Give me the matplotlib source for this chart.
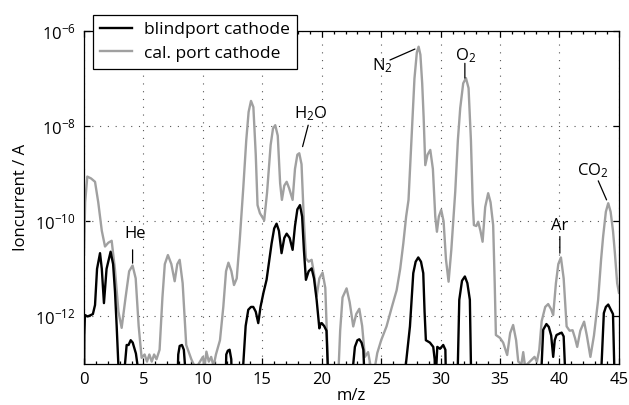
import numpy as np
import matplotlib
matplotlib.use("Agg")
import matplotlib.pyplot as plt
from matplotlib.ticker import FixedLocator, MultipleLocator, NullLocator

plt.rcParams['font.family'] = ['Open Sans', 'DejaVu Sans']
plt.rcParams['mathtext.fontset'] = 'custom'
plt.rcParams['mathtext.rm'] = 'Open Sans'
plt.rcParams['mathtext.it'] = 'Open Sans:italic'
plt.rcParams['mathtext.bf'] = 'Open Sans:bold'

# ---- data: m/z and log10(ion current / A) ----
cal_mz = [0.0, 0.1, 0.28, 0.6, 0.93, 1.2, 1.5, 1.77, 2.05, 2.33, 2.6, 2.9, 3.17, 3.5, 3.8, 4.09, 4.35, 4.6,
          4.85, 5.1, 5.3, 5.5, 5.7, 5.9, 6.1, 6.36, 6.6, 6.8, 7.06, 7.35, 7.63, 7.85, 8.05, 8.3, 8.6,
          9.03, 9.4, 9.76, 10.0, 10.15, 10.3, 10.5, 10.7, 10.9, 11.1, 11.44, 11.72, 11.95, 12.15, 12.4,
          12.62, 12.85, 13.1, 13.4, 13.65, 13.85, 14.05, 14.25, 14.45, 14.6, 14.8, 15.16, 15.4, 15.7,
          15.9, 16.09, 16.3, 16.5, 16.65, 16.85, 17.05, 17.25, 17.55, 17.75, 17.95, 18.11, 18.3, 18.5,
          18.67, 18.9, 19.15, 19.35, 19.57, 19.8, 20.07, 20.3, 20.45, 20.55, 21.4, 21.55, 21.75, 22.09,
          22.35, 22.65, 22.9, 23.16, 23.4, 23.63, 23.9, 24.15, 24.45, 24.67, 25.0, 25.45, 25.9, 26.3,
          26.6, 26.86, 27.1, 27.3, 27.6, 27.8, 28.0, 28.15, 28.3, 28.45, 28.57, 28.71, 28.9, 29.13,
          29.35, 29.55, 29.69, 29.85, 30.05, 30.25, 30.45, 30.67, 30.9, 31.23, 31.45, 31.65, 31.9, 32.13,
          32.35, 32.55, 32.7, 32.8, 33.0, 33.16, 33.35, 33.53, 33.75, 34.0, 34.2, 34.42, 34.55, 34.65,
          34.99, 35.26, 35.6, 35.85, 36.1, 36.35, 36.53, 36.8, 36.95, 37.1, 37.5, 37.9, 38.1, 38.3,
          38.5, 38.8, 39.05, 39.3, 39.47, 39.7, 39.9, 40.12, 40.35, 40.6, 40.85, 41.1, 41.3, 41.49,
          41.75, 42.07, 42.3, 42.6, 42.9, 43.25, 43.5, 43.67, 43.9, 44.1, 44.3, 44.5, 44.66, 44.85, 45.0]
cal_log = [-10.7, -9.6, -9.06, -9.1, -9.17, -9.6, -10.2, -10.53, -10.45, -10.41, -11.0, -11.9, -12.24, -11.6,
           -11.05, -10.93, -11.2, -12.2, -12.87, -12.8, -12.95, -12.8, -12.95, -12.8, -12.9, -12.7, -11.6,
           -10.9, -10.71, -10.9, -11.26, -10.9, -10.81, -11.3, -12.6, -12.9, -13.1, -12.95, -12.85, -13.05,
           -12.74, -12.95, -12.85, -13.05, -12.8, -12.5, -11.8, -11.05, -10.87, -11.05, -11.34, -11.2,
           -10.4, -9.3, -8.3, -7.7, -7.47, -7.6, -8.6, -9.66, -9.83, -9.98, -9.4, -8.4, -8.05, -7.98, -8.2,
           -9.2, -9.55, -9.25, -9.17, -9.3, -9.55, -8.9, -8.6, -8.57, -8.8, -10.0, -10.78, -10.85, -10.81,
           -11.1, -11.58, -11.2, -11.08, -11.4, -12.5, -13.2, -13.2, -12.3, -11.6, -11.41, -11.7, -12.21,
           -11.95, -11.84, -12.2, -12.85, -12.75, -13.1, -13.1, -12.77, -12.5, -12.21, -11.8, -11.45,
           -11.0, -10.47, -9.9, -9.55, -8.0, -7.0, -6.45, -6.33, -6.5, -7.1, -7.8, -8.82, -8.6, -8.5,
           -8.9, -9.9, -10.22, -9.9, -9.76, -10.0, -10.8, -11.27, -10.6, -9.38, -8.3, -7.62, -7.1, -6.99,
           -7.2, -8.3, -9.6, -10.08, -10.1, -10.01, -10.2, -10.43, -9.7, -9.41, -9.6, -10.08, -11.3, -12.39,
           -12.45, -12.55, -12.81, -12.35, -12.18, -12.5, -12.95, -13.0, -12.75, -13.05, -12.95, -12.85,
           -12.95, -12.7, -12.1, -11.8, -11.74, -11.85, -11.97, -11.3, -10.9, -10.76, -11.2, -12.21, -12.3,
           -12.29, -12.45, -12.64, -12.3, -12.11, -12.4, -12.85, -12.4, -11.65, -10.8, -10.32, -9.8, -9.62,
           -9.8, -10.2, -10.67, -11.3, -11.5]

blind_mz = [0.0, 0.03, 0.08, 0.3, 0.5, 0.75, 0.93, 1.1, 1.35, 1.5, 1.68, 1.9, 2.24, 2.45, 2.61, 2.75, 2.89,
            3.0, 3.35, 3.45, 3.59, 3.75, 3.93, 4.1, 4.37, 4.49, 4.6,
            7.8, 7.93, 8.05, 8.24, 8.4, 8.49, 8.6,
            11.85, 11.97, 12.1, 12.25, 12.39, 12.5,
            13.3, 13.4, 13.6, 13.82, 14.05, 14.24, 14.45, 14.66, 14.85, 15.1, 15.36, 15.6, 15.78, 16.0,
            16.2, 16.4, 16.62, 16.85, 17.05, 17.3, 17.55, 17.75, 17.95, 18.17, 18.35, 18.5, 18.67, 18.9,
            19.15, 19.35, 19.57, 19.8, 19.9, 20.0, 20.2, 20.4, 20.5, 20.6,
            22.55, 22.65, 22.79, 23.0, 23.16, 23.35, 23.5, 23.55, 23.65,
            26.95, 27.08, 27.42, 27.7, 27.9, 28.12, 28.35, 28.54, 28.65, 28.76, 29.1, 29.38, 29.5, 29.6,
            29.65, 29.72, 29.95, 30.22, 30.4, 30.5,
            31.35, 31.45, 31.57, 31.8, 32.04, 32.25, 32.46, 32.55, 32.65,
            38.4, 38.5, 38.63, 38.9, 39.1, 39.3, 39.47, 39.6, 39.75, 40.18, 40.35, 40.45, 40.55,
            43.45, 43.54, 43.73, 43.9, 44.1, 44.3, 44.5, 44.6, 44.7, 45.0]
blind_log = [-14, -12.4, -11.97, -12.0, -11.98, -11.95, -11.76, -11.0, -10.67, -11.0, -11.72, -11.0, -10.64,
             -10.9, -11.48, -12.2, -13.0, -14, -14, -13.0, -12.6, -12.6, -12.5, -12.55, -12.78, -13.0, -14,
             -14, -12.8, -12.62, -12.6, -12.7, -13.0, -14,
             -14, -12.8, -12.72, -12.7, -12.9, -14,
             -14, -13.0, -12.2, -11.86, -11.8, -11.8, -11.9, -12.14, -11.8, -11.5, -11.23, -10.8, -10.47,
             -10.15, -10.05, -10.2, -10.67, -10.35, -10.26, -10.35, -10.6, -10.1, -9.75, -9.66, -9.9,
             -10.6, -11.23, -11.05, -10.99, -11.2, -11.65, -12.25, -12.15, -12.14, -12.2, -12.3, -13, -14,
             -14, -13.0, -12.64, -12.5, -12.48, -12.55, -12.7, -13, -14,
             -14, -13.0, -12.21, -11.09, -10.85, -10.76, -10.85, -11.09, -11.9, -12.5, -12.55, -12.64,
             -12.9, -14,
             -13.0, -12.64, -12.68, -12.6, -12.7, -14,
             -14, -13, -11.65, -11.25, -11.16, -11.3, -11.65, -13, -14,
             -14, -13, -12.28, -12.16, -12.22, -12.4, -12.85, -12.5, -12.39, -12.34, -12.42, -13, -14,
             -14, -13, -11.93, -11.8, -11.75, -11.85, -11.95, -13, -14, -14]

series_labels = ['blindport cathode', 'cal. port cathode']
xticks = [0, 5, 10, 15, 20, 25, 30, 35, 40, 45]
yticks = [1e-12, 1e-10, 1e-8, 1e-6]

# annotations: label, text position (mz, log10), leader start, leader end
ann_labels = ['He', 'H$_2$O', 'N$_2$', 'O$_2$', 'Ar', 'CO$_2$']
ann_text = [(4.32, -10.36), (19.1, -7.83), (25.06, -6.82), (32.09, -6.61), (40.03, -10.18), (42.84, -9.03)]
ann_start = [(4.09, -10.60), (18.86, -7.98), (25.74, -6.61), (32.04, -6.68), (40.03, -10.32), (43.26, -9.15)]
ann_end = [(4.09, -10.88), (18.39, -8.43), (27.84, -6.38), (32.04, -6.99), (40.03, -10.67), (43.96, -9.55)]

fig = plt.figure(figsize=(6.29, 4.05), dpi=100)
ax = fig.add_axes([0.1335, 0.1012, 0.8505, 0.8223])

ax.plot(blind_mz, 10.0 ** np.array(blind_log), color='black', lw=1.7, label=series_labels[0], zorder=3)
ax.plot(cal_mz, 10.0 ** np.array(cal_log), color='#a0a0a0', lw=1.7, label=series_labels[1], zorder=2)

ax.set_yscale('log')
ax.set_xlim(0, 45)
ax.set_ylim(1e-13, 1e-6)
ax.xaxis.set_major_locator(FixedLocator(xticks))
ax.xaxis.set_minor_locator(MultipleLocator(1))
ax.yaxis.set_major_locator(FixedLocator(yticks))
ax.yaxis.set_minor_locator(NullLocator())

ax.tick_params(which='both', direction='in', top=True, right=True, labelsize=12, width=0.9)
ax.tick_params(which='major', length=4.5, pad=6)
ax.tick_params(which='minor', length=2.5)
for s in ax.spines.values():
    s.set_linewidth(0.9)

ax.grid(True, which='major', color='#555555', linestyle=(0, (1, 6)), linewidth=0.8)

ax.set_xlabel('m/z', fontsize=12, labelpad=0)
ax.set_ylabel('Ioncurrent / A', fontsize=12, labelpad=4)

for lab, t, a, b in zip(ann_labels, ann_text, ann_start, ann_end):
    ax.text(t[0], 10 ** t[1], lab, ha='center', va='baseline', fontsize=12)
    ax.annotate('', xy=(b[0], 10 ** b[1]), xytext=(a[0], 10 ** a[1]),
                arrowprops=dict(arrowstyle='-', lw=0.9, color='black', shrinkA=0, shrinkB=0))

leg = ax.legend(loc='upper left', bbox_to_anchor=(0.017, 1.048), borderaxespad=0, fontsize=12.5,
                frameon=True, fancybox=False, framealpha=1, edgecolor='black',
                handlelength=1.8, handletextpad=0.7, labelspacing=0.4, borderpad=0.42)
leg.get_frame().set_linewidth(0.9)
leg.set_zorder(5)

fig.savefig('out.png', dpi=100)
